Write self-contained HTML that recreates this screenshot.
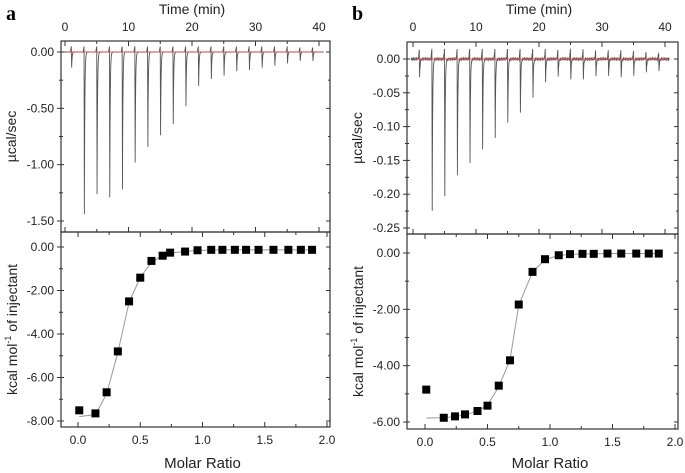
<!DOCTYPE html>
<html><head><meta charset="utf-8"><style>
html,body{margin:0;padding:0;background:#fff;width:685px;height:473px;overflow:hidden}
svg{display:block;font-family:"Liberation Sans",Arial,sans-serif}
</style></head><body>
<svg id="fig" width="685" height="473" viewBox="0 0 685 473"></svg>
<script>
// ---- Panel a data ----
const aInjTimes = [1,3,5,7,9,11,13,15,17,19,21,23,25,27,29,31,33,35,37,39];
const aPeaks = [-0.14,-1.44,-1.26,-1.29,-1.22,-0.98,-0.84,-0.74,-0.64,-0.48,-0.30,-0.24,-0.21,-0.17,-0.16,-0.14,-0.12,-0.10,-0.08,-0.08];
const aRatio = [0.01,0.14,0.23,0.32,0.41,0.50,0.59,0.68,0.74,0.86,0.96,1.07,1.16,1.26,1.35,1.45,1.57,1.69,1.79,1.88];
const aHeat = [-7.51,-7.65,-6.68,-4.80,-2.50,-1.41,-0.64,-0.40,-0.26,-0.21,-0.15,-0.13,-0.13,-0.13,-0.13,-0.13,-0.13,-0.13,-0.13,-0.13];
const aFit = [-7.80,-7.70,-6.75,-4.85,-2.55,-1.40,-0.70,-0.40,-0.28,-0.20,-0.16,-0.14,-0.13,-0.13,-0.13,-0.13,-0.13,-0.13,-0.13,-0.13];
const aTopTicks = ["-1.50","-1.00","-0.50","0.00"];
const aTopTickVals = [-1.5,-1.0,-0.5,0];
const aBotTicks = ["-8.00","-6.00","-4.00","-2.00","0.00"];
const aBotTickVals = [-8,-6,-4,-2,0];
// ---- Panel b data ----
const bInjTimes = [1,3,5,7,9,11,13,15,17,19,21,23,25,27,29,31,33,35,37,39];
const bPeaks = [-0.028,-0.225,-0.202,-0.172,-0.155,-0.133,-0.116,-0.095,-0.080,-0.056,-0.034,-0.027,-0.030,-0.029,-0.026,-0.026,-0.026,-0.024,-0.021,-0.018];
const bRatio = [0.01,0.15,0.24,0.32,0.42,0.50,0.59,0.68,0.75,0.86,0.96,1.07,1.16,1.26,1.35,1.46,1.57,1.69,1.79,1.87];
const bHeat = [-4.85,-5.85,-5.80,-5.73,-5.61,-5.42,-4.71,-3.81,-1.83,-0.67,-0.22,-0.08,-0.04,-0.03,-0.03,-0.02,-0.02,-0.02,-0.02,-0.02];
const bFit = [-5.86,-5.85,-5.81,-5.74,-5.62,-5.40,-4.75,-3.80,-1.85,-0.68,-0.23,-0.09,-0.05,-0.03,-0.03,-0.02,-0.02,-0.02,-0.02,-0.02];
const bTopTicks = ["-0.25","-0.20","-0.15","-0.10","-0.05","0.00"];
const bTopTickVals = [-0.25,-0.2,-0.15,-0.1,-0.05,0];
const bBotTicks = ["-6.00","-4.00","-2.00","0.00"];
const bBotTickVals = [-6,-4,-2,0];
const timeTicks = [0,10,20,30,40];
const ratioTicks = ["0.0","0.5","1.0","1.5","2.0"];
const ratioTickVals = [0,0.5,1,1.5,2];

const NS="http://www.w3.org/2000/svg";
const svg=document.getElementById('fig');
function el(tag,attrs,parent,text){const e=document.createElementNS(NS,tag);for(const k in attrs)e.setAttribute(k,attrs[k]);if(text!==undefined)e.textContent=text;(parent||svg).appendChild(e);return e;}
function lin(d0,d1,r0,r1){return v=>r0+(v-d0)*(r1-r0)/(d1-d0);}

function panel(P){
  const g=el('g',{});
  
  
  const lt=el('text',{x:P.letterX,y:20,'font-size':20,'font-weight':'bold','font-family':'"Liberation Serif",serif'},g,P.id);
  
  
  const tx=lin(0,40,P.t0,P.t40), ty=lin(0,P.topMin,P.y0,P.yMin);
  const rx=lin(0,2,P.r0,P.r2), hy=lin(0,P.botMin,P.h0,P.hMin);
  // top trace: sample times plus exact injection points
  const ts=[];
  for(let i=0;i<=3000;i++) ts.push(i*41/3000-0.3);
  P.inj.forEach(t0=>{ts.push(t0-0.08,t0-0.001,t0+0.05,t0+0.06);});
  ts.sort((a,b)=>a-b);
  function val(t){
    let v=P.noise*Math.sin(t*37)*Math.cos(t*11);
    for(let k=0;k<P.inj.length;k++){
      const dt=t-P.inj[k];
      if(dt>=0&&dt<0.05) v+=P.peaks[k]*(dt/0.05);
      else if(dt>=0.05) v+=P.peaks[k]*Math.exp(-(dt-0.05)/0.07);
      if(dt<0&&dt>-0.15) v+=Math.min(P.over,Math.abs(P.peaks[k])*0.5)*(1+dt/0.15);
    }
    return v;
  }
  let d='';
  ts.forEach(t=>{const X=tx(t);if(X<P.L+1||X>P.R-1)return;d+=(d?'L':'M')+X.toFixed(2)+','+ty(val(t)).toFixed(2);});
  const tr=el('path',{d:d,fill:'none',stroke:'#555','stroke-width':0.9},g);
  
  
  const bl=el('line',{x1:tx(0.2),x2:tx(40.5),y1:ty(0),y2:ty(0),stroke:'#e05050','stroke-width':1},g);
  
  
  const f1=el('rect',{x:P.L,y:P.T,width:P.R-P.L,height:P.M-P.T,fill:'none',stroke:'#333','stroke-width':1.2},g);
  
  
  const f2=el('rect',{x:P.L,y:P.M,width:P.R-P.L,height:P.B-P.M,fill:'none',stroke:'#333','stroke-width':1.2},g);
  
  
  for(let t=0;t<=40;t+=5){
    const X=tx(t), len=t%10===0?5:3;
    el('line',{x1:X,x2:X,y1:P.T,y2:P.T+len,stroke:'#333'},g);
    el('line',{x1:X,x2:X,y1:P.M,y2:P.M-len,stroke:'#333'},g);
  }
  timeTicks.forEach(t=>{const e=el('text',{x:tx(t),y:31,'font-size':12,'text-anchor':'middle',fill:'#222'},g,String(t));
    });
  const tt=el('text',{x:(P.t0+P.t40)/2,y:14,'font-size':14,'text-anchor':'middle',fill:'#222'},g,'Time (min)');
  
  
  P.topTickVals.forEach((v,i)=>{
    const Y=ty(v);
    el('line',{x1:P.L-4,x2:P.L+3,y1:Y,y2:Y,stroke:'#333'},g);
    el('line',{x1:P.R-4,x2:P.R,y1:Y,y2:Y,stroke:'#333'},g);
    if(i<P.topTickVals.length-1){const Ym=ty((v+P.topTickVals[i+1])/2);
      el('line',{x1:P.L-2,x2:P.L+2,y1:Ym,y2:Ym,stroke:'#333'},g);el('line',{x1:P.R-2,x2:P.R,y1:Ym,y2:Ym,stroke:'#333'},g);}
    const e=el('text',{x:P.L-7,y:Y+4,'font-size':12,'text-anchor':'end',fill:'#222'},g,P.topTicks[i]);
    
  });
  const yt=el('text',{transform:`translate(${P.L-45},${(P.T+P.M)/2}) rotate(-90)`,'font-size':14,'text-anchor':'middle',fill:'#222'},g,'µcal/sec');
  
  
  P.botTickVals.forEach((v,i)=>{
    const Y=hy(v);
    el('line',{x1:P.L-4,x2:P.L+3,y1:Y,y2:Y,stroke:'#333'},g);
    el('line',{x1:P.R-4,x2:P.R,y1:Y,y2:Y,stroke:'#333'},g);
    if(i<P.botTickVals.length-1){const Ym=hy((v+P.botTickVals[i+1])/2);
      el('line',{x1:P.L-2,x2:P.L+2,y1:Ym,y2:Ym,stroke:'#333'},g);el('line',{x1:P.R-2,x2:P.R,y1:Ym,y2:Ym,stroke:'#333'},g);}
    const e=el('text',{x:P.L-7,y:Y+4,'font-size':12,'text-anchor':'end',fill:'#222'},g,P.botTicks[i]);
    
  });
  for(let r=0;r<=2.001;r+=0.25){
    const X=rx(r), len=Math.abs(r*2-Math.round(r*2))<0.01?5:3;
    el('line',{x1:X,x2:X,y1:P.B,y2:P.B-len,stroke:'#333'},g);
    el('line',{x1:X,x2:X,y1:P.M,y2:P.M+len,stroke:'#333'},g);
  }
  ratioTickVals.forEach((r,i)=>{const e=el('text',{x:rx(r),y:P.B+17,'font-size':12,'text-anchor':'middle',fill:'#222'},g,ratioTicks[i]);
    });
  const xt=el('text',{x:(P.r0+P.r2)/2,y:468,'font-size':15,'text-anchor':'middle',fill:'#222'},g,'Molar Ratio');
  
  
  const ht=el('text',{transform:`translate(${P.L-44},${(P.M+P.B)/2}) rotate(-90)`,'font-size':14,'text-anchor':'middle',fill:'#222'},g);
  
  
  el('tspan',{},ht,'kcal mol');
  el('tspan',{dy:-6,'font-size':9},ht,'-1');
  el('tspan',{dy:6},ht,' of injectant');
  const fd=P.ratio.map((r,i)=>(i?'L':'M')+rx(r).toFixed(2)+','+hy(P.fit[i]).toFixed(2)).join('');
  const fl=el('path',{d:fd,fill:'none',stroke:'#999','stroke-width':1},g);
  
  
  P.ratio.forEach((r,i)=>{
    const s=el('rect',{x:rx(r)-4,y:hy(P.heat[i])-4,width:8,height:8,fill:'#000'},g);
    
    
  });
}
panel({id:'a',letterX:6,L:61,R:330,T:41,M:232,B:427,t0:65,t40:319,y0:52,yMin:221,topMin:-1.5,
  r0:78,r2:327,h0:247,hMin:421,botMin:-8,inj:aInjTimes,peaks:aPeaks,noise:0.002,over:0.05,
  topTicks:aTopTicks,topTickVals:aTopTickVals,botTicks:aBotTicks,botTickVals:aBotTickVals,ratio:aRatio,heat:aHeat,fit:aFit});
panel({id:'b',letterX:352,L:407,R:678,T:42,M:234,B:429,t0:413,t40:665,y0:59,yMin:228,topMin:-0.25,
  r0:425,r2:675,h0:253,hMin:422,botMin:-6,inj:bInjTimes,peaks:bPeaks,noise:0.002,over:0.015,
  topTicks:bTopTicks,topTickVals:bTopTickVals,botTicks:bBotTicks,botTickVals:bBotTickVals,ratio:bRatio,heat:bHeat,fit:bFit});
</script>
</body></html>
